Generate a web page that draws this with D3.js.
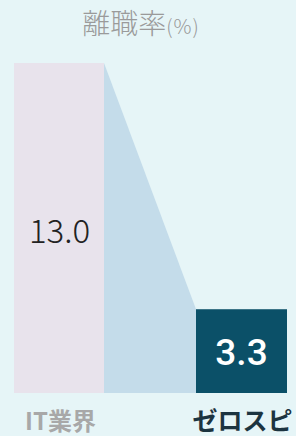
<!DOCTYPE html>
<html><head><meta charset="utf-8">
<script src="https://cdn.jsdelivr.net/npm/d3@7"></script>
<style>html,body{margin:0;padding:0;background:#e6f5f7;}svg{display:block;}</style>
</head><body>
<script>
const categories = ["IT業界", "ゼロスピ"];
const values = [13.0, 3.3];
const valueLabels = ["13.0", "3.3"];
const title = "離職率";
const unit = "(%)";

const W = 296, H = 436;
const svg = d3.select("body").append("svg").attr("width", W).attr("height", H);
svg.append("rect").attr("width", W).attr("height", H).attr("fill", "#e6f5f7");

const bw = 91;
const xPos = d3.scalePoint().domain(categories).range([14, 196]);
const y = d3.scaleLinear().domain([0, 13.0]).range([393, 63]);

// connector polygon
const x0 = xPos(categories[0]) + bw - 1, x1 = xPos(categories[1]);
svg.append("path")
  .attr("d", d3.line()([[x0, y(values[0])], [x1, y(values[1])], [x1, y(0)], [x0, y(0)]]))
  .attr("fill", "#c4dcea");

const colors = ["#e8e3ec", "#0b5068"];
svg.selectAll("rect.bar").data(values).enter().append("rect")
  .attr("class", "bar")
  .attr("x", (d, i) => xPos(categories[i]))
  .attr("y", d => y(d))
  .attr("width", (d, i) => i === 0 ? bw - 1 : bw)
  .attr("height", d => y(0) - y(d))
  .attr("fill", (d, i) => colors[i]);

// value labels
svg.append("text").text(valueLabels[0])
  .attr("x", xPos(categories[0]) + bw / 2).attr("y", 243)
  .attr("text-anchor", "middle").attr("font-family", "Noto Sans CJK JP")
  .attr("font-size", 33).attr("font-weight", 300).attr("fill", "#222");
svg.append("text").text(valueLabels[1])
  .attr("x", xPos(categories[1]) + bw / 2).attr("y", 365)
  .attr("text-anchor", "middle").attr("font-family", "Roboto")
  .attr("font-size", 37).attr("font-weight", 500).attr("fill", "#ffffff");

// title
const t = svg.append("text").attr("x", 141).attr("y", 34).attr("text-anchor", "middle")
  .attr("font-family", "Noto Sans CJK JP").attr("fill", "#9a9a9a");
t.append("tspan").text(title).attr("font-size", 28).attr("font-weight", 300);
t.append("tspan").text(unit).attr("font-size", 20).attr("font-weight", 300).attr("letter-spacing", 1);

// category labels
const catColors = ["#a8a8a8", "#1c3440"];
svg.selectAll("text.cat").data(categories).enter().append("text")
  .attr("class", "cat").text(d => d)
  .attr("x", d => xPos(d) + bw / 2 + 1).attr("y", 430)
  .attr("text-anchor", "middle").attr("font-family", "Noto Sans CJK JP")
  .attr("font-size", (d, i) => i === 0 ? 24 : 25).attr("font-weight", 700)
  .attr("fill", (d, i) => catColors[i]);
</script>
</body></html>
